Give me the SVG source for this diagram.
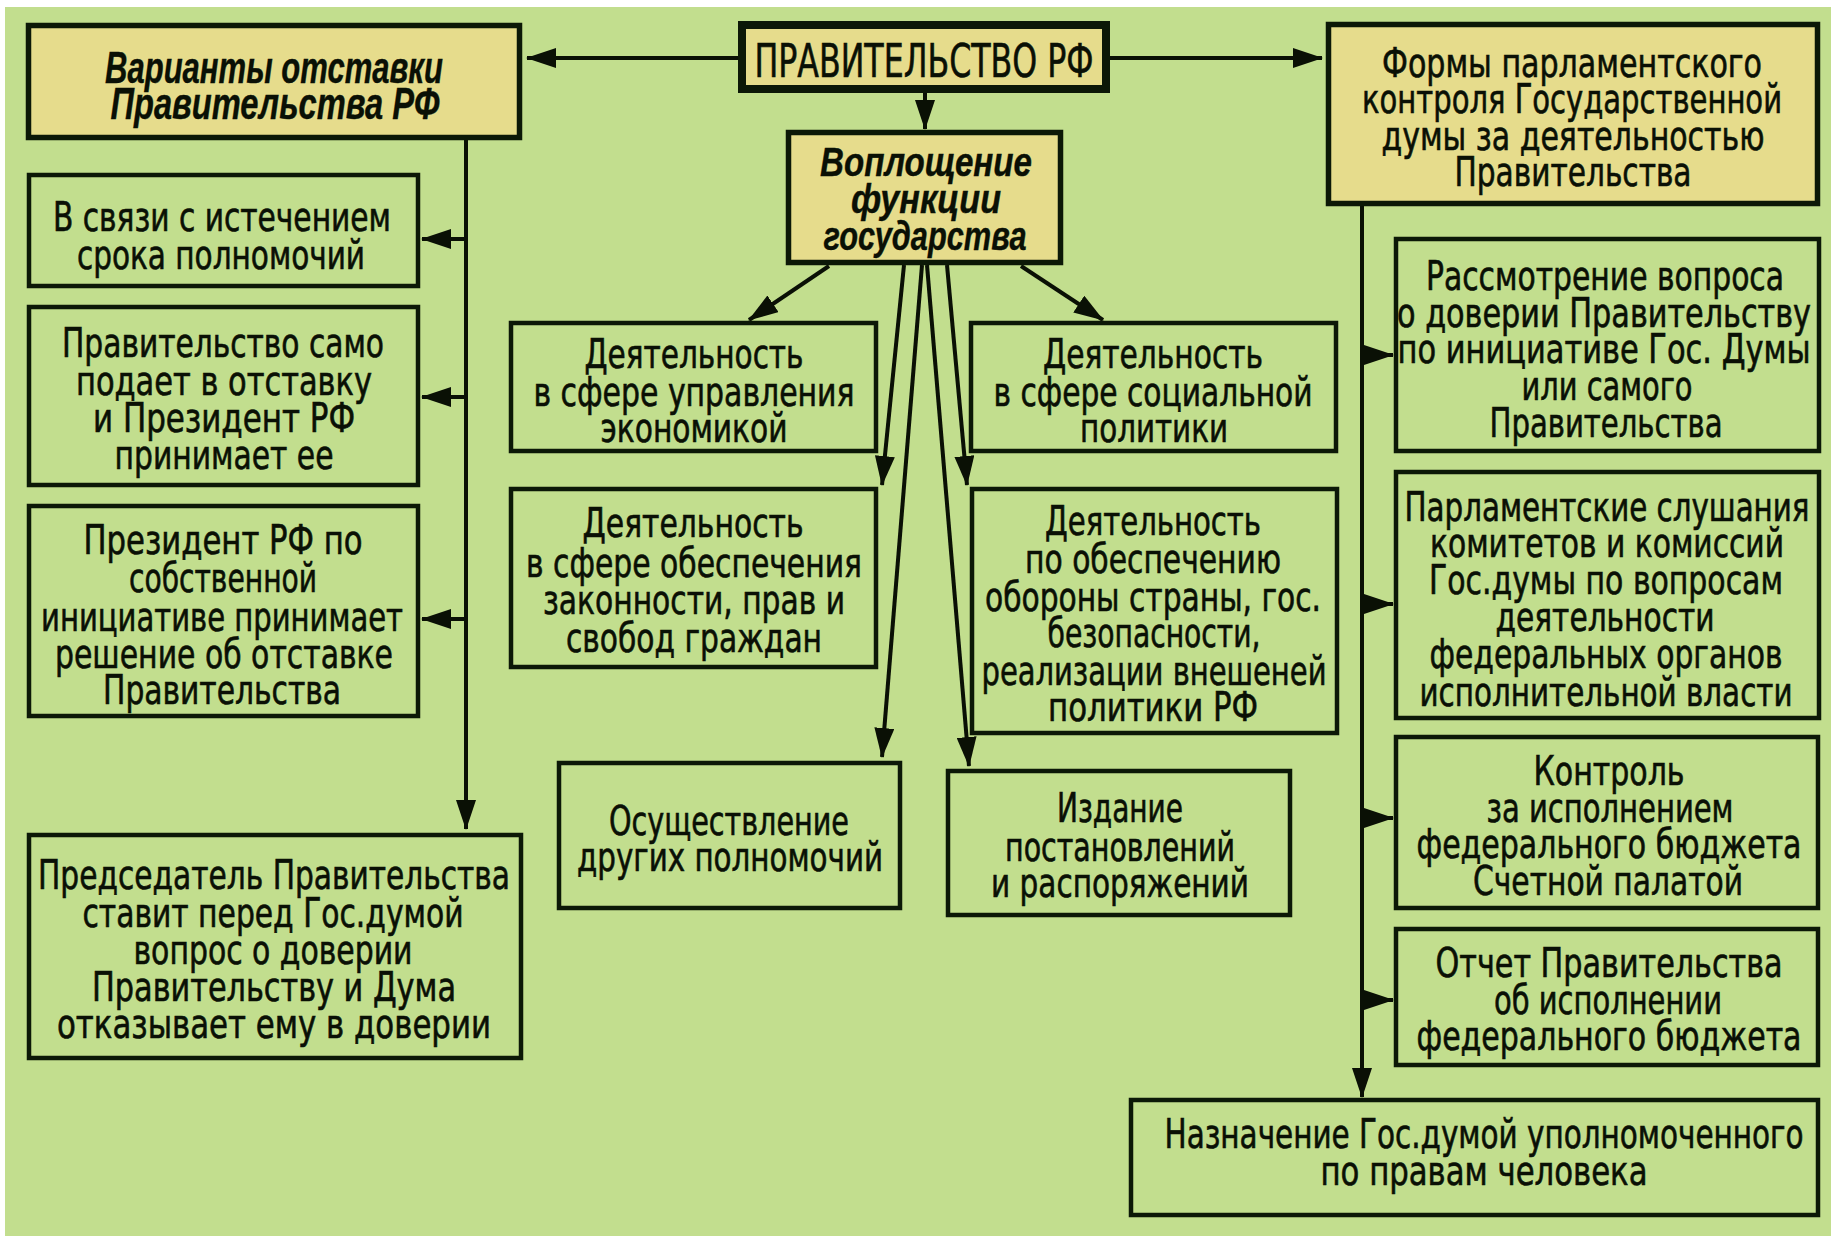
<svg xmlns="http://www.w3.org/2000/svg" width="1831" height="1236" viewBox="0 0 1831 1236">
<style>
.bg{fill:#c2de8e}
.box{fill:#c2de8e;stroke:#0c1807;stroke-width:4.5}
.hbox{fill:#e6dc8c;stroke:#0c1807;stroke-width:5.5}
.main{fill:#e6dc8c;stroke:#0c1807;stroke-width:8}
text{font-family:"DejaVu Sans","Liberation Sans",sans-serif;font-stretch:condensed;font-size:40px;fill:#0a1005;stroke:#0a1005;stroke-width:0.6;text-anchor:middle}
.hi{font-family:"Liberation Sans","DejaVu Sans",sans-serif;font-style:italic;font-weight:bold;font-stretch:normal;stroke-width:0.4}
.big{font-size:47px}
.conn line{stroke:#0a1005;stroke-width:4;marker-end:url(#ah)}
</style>
<defs>
<marker id="ah" viewBox="0 0 30 20" refX="29" refY="10" markerWidth="30" markerHeight="20" markerUnits="userSpaceOnUse" orient="auto">
<path d="M0,0 L30,10 L0,20 Z" fill="#0a1005"/>
</marker>
</defs>
<rect x="0" y="0" width="1831" height="1236" fill="#ffffff"/>
<rect class="bg" x="5" y="7" width="1826" height="1229"/>

<g id="connectors" class="conn">
<line x1="739" y1="58" x2="527" y2="58"/>
<line x1="1109" y1="58" x2="1322" y2="58"/>
<line x1="925" y1="92" x2="925" y2="129"/>
<line x1="466" y1="140" x2="466" y2="829"/>
<line x1="466" y1="239" x2="422" y2="239"/>
<line x1="466" y1="397" x2="422" y2="397"/>
<line x1="466" y1="619" x2="422" y2="619"/>
<line x1="829" y1="266" x2="749" y2="320"/>
<line x1="1021" y1="266" x2="1103" y2="320"/>
<line x1="904" y1="265" x2="882" y2="485"/>
<line x1="922" y1="265" x2="882" y2="757"/>
<line x1="927" y1="265" x2="969" y2="766"/>
<line x1="947" y1="265" x2="967" y2="485"/>
<line x1="1362" y1="206" x2="1362" y2="1097"/>
<line x1="1362" y1="355" x2="1393" y2="355"/>
<line x1="1362" y1="604" x2="1393" y2="604"/>
<line x1="1362" y1="818" x2="1393" y2="818"/>
<line x1="1362" y1="1000" x2="1393" y2="1000"/>
</g>

<g id="pravitelstvo">
<rect class="main" x="742" y="25" width="364" height="64"/>
<text class="big" x="924" y="77" textLength="339" lengthAdjust="spacingAndGlyphs">ПРАВИТЕЛЬСТВО РФ</text>
</g>

<g id="varianty">
<rect class="hbox" x="28.5" y="25.5" width="491" height="112"/>
<text class="hi" style="font-size:44px" x="274" y="83" textLength="338" lengthAdjust="spacingAndGlyphs">Варианты отставки</text>
<text class="hi" style="font-size:44px" x="275" y="119" textLength="329" lengthAdjust="spacingAndGlyphs">Правительства РФ</text>
</g>

<g id="formy">
<rect class="hbox" x="1328.5" y="24.5" width="489" height="179"/>
<text x="1572" y="77" textLength="380" lengthAdjust="spacingAndGlyphs">Формы парламентского</text>
<text x="1572" y="113" textLength="420" lengthAdjust="spacingAndGlyphs">контроля Государственной</text>
<text x="1573" y="150" textLength="383" lengthAdjust="spacingAndGlyphs">думы за деятельностью</text>
<text x="1573" y="186" textLength="237" lengthAdjust="spacingAndGlyphs">Правительства</text>
</g>

<g id="voploshchenie">
<rect class="hbox" x="788.5" y="132.5" width="272" height="130"/>
<text class="hi" x="926" y="176" textLength="212" lengthAdjust="spacingAndGlyphs">Воплощение</text>
<text class="hi" x="926" y="213" textLength="150" lengthAdjust="spacingAndGlyphs">функции</text>
<text class="hi" x="925" y="250" textLength="203" lengthAdjust="spacingAndGlyphs">государства</text>
</g>

<g id="v-svyazi">
<rect class="box" x="29" y="175" width="389" height="111"/>
<text x="222" y="231" textLength="338" lengthAdjust="spacingAndGlyphs">В связи с истечением</text>
<text x="221" y="269" textLength="288" lengthAdjust="spacingAndGlyphs">срока полномочий</text>
</g>

<g id="samo">
<rect class="box" x="29" y="307" width="389" height="178"/>
<text x="223" y="357" textLength="322" lengthAdjust="spacingAndGlyphs">Правительство само</text>
<text x="224" y="395" textLength="296" lengthAdjust="spacingAndGlyphs">подает в отставку</text>
<text x="224" y="432" textLength="262" lengthAdjust="spacingAndGlyphs">и Президент РФ</text>
<text x="224" y="469" textLength="219" lengthAdjust="spacingAndGlyphs">принимает ее</text>
</g>

<g id="prezident">
<rect class="box" x="29" y="506" width="389" height="210"/>
<text x="223" y="554" textLength="279" lengthAdjust="spacingAndGlyphs">Президент РФ по</text>
<text x="223" y="592" textLength="188" lengthAdjust="spacingAndGlyphs">собственной</text>
<text x="222" y="631" textLength="362" lengthAdjust="spacingAndGlyphs">инициативе принимает</text>
<text x="224" y="668" textLength="338" lengthAdjust="spacingAndGlyphs">решение об отставке</text>
<text x="222" y="704" textLength="238" lengthAdjust="spacingAndGlyphs">Правительства</text>
</g>

<g id="predsedatel">
<rect class="box" x="29" y="835" width="492" height="223"/>
<text x="274" y="889" textLength="472" lengthAdjust="spacingAndGlyphs">Председатель Правительства</text>
<text x="273" y="927" textLength="381" lengthAdjust="spacingAndGlyphs">ставит перед Гос.думой</text>
<text x="273" y="964" textLength="279" lengthAdjust="spacingAndGlyphs">вопрос о доверии</text>
<text x="274" y="1001" textLength="364" lengthAdjust="spacingAndGlyphs">Правительству и Дума</text>
<text x="274" y="1038" textLength="434" lengthAdjust="spacingAndGlyphs">отказывает ему в доверии</text>
</g>

<g id="ekonomika">
<rect class="box" x="511" y="323" width="365" height="128"/>
<text x="694" y="368" textLength="219" lengthAdjust="spacingAndGlyphs">Деятельность</text>
<text x="694" y="406" textLength="321" lengthAdjust="spacingAndGlyphs">в сфере управления</text>
<text x="694" y="442" textLength="187" lengthAdjust="spacingAndGlyphs">экономикой</text>
</g>

<g id="socialnaya">
<rect class="box" x="971" y="323" width="365" height="128"/>
<text x="1153" y="368" textLength="220" lengthAdjust="spacingAndGlyphs">Деятельность</text>
<text x="1153" y="406" textLength="319" lengthAdjust="spacingAndGlyphs">в сфере социальной</text>
<text x="1154" y="442" textLength="148" lengthAdjust="spacingAndGlyphs">политики</text>
</g>

<g id="zakonnost">
<rect class="box" x="511" y="489" width="365" height="178"/>
<text x="693" y="537" textLength="221" lengthAdjust="spacingAndGlyphs">Деятельность</text>
<text x="694" y="577" textLength="336" lengthAdjust="spacingAndGlyphs">в сфере обеспечения</text>
<text x="694" y="614" textLength="302" lengthAdjust="spacingAndGlyphs">законности, прав и</text>
<text x="694" y="652" textLength="256" lengthAdjust="spacingAndGlyphs">свобод граждан</text>
</g>

<g id="oborona">
<rect class="box" x="972" y="489" width="365" height="244"/>
<text x="1153" y="535" textLength="216" lengthAdjust="spacingAndGlyphs">Деятельность</text>
<text x="1153" y="573" textLength="256" lengthAdjust="spacingAndGlyphs">по обеспечению</text>
<text x="1153" y="611" textLength="336" lengthAdjust="spacingAndGlyphs">обороны страны, гос.</text>
<text x="1154" y="647" textLength="213" lengthAdjust="spacingAndGlyphs">безопасности,</text>
<text x="1154" y="685" textLength="345" lengthAdjust="spacingAndGlyphs">реализации внешеней</text>
<text x="1153" y="721" textLength="210" lengthAdjust="spacingAndGlyphs">политики РФ</text>
</g>

<g id="drugie">
<rect class="box" x="559" y="763" width="341" height="145"/>
<text x="729" y="835" textLength="240" lengthAdjust="spacingAndGlyphs">Осуществление</text>
<text x="730" y="871" textLength="306" lengthAdjust="spacingAndGlyphs">других полномочий</text>
</g>

<g id="izdanie">
<rect class="box" x="948" y="771" width="342" height="144"/>
<text x="1120" y="822" textLength="126" lengthAdjust="spacingAndGlyphs">Издание</text>
<text x="1120" y="861" textLength="230" lengthAdjust="spacingAndGlyphs">постановлений</text>
<text x="1120" y="897" textLength="258" lengthAdjust="spacingAndGlyphs">и распоряжений</text>
</g>

<g id="rassmotrenie">
<rect class="box" x="1396" y="239" width="423" height="212"/>
<text x="1605" y="290" textLength="358" lengthAdjust="spacingAndGlyphs">Рассмотрение вопроса</text>
<text x="1604" y="327" textLength="414" lengthAdjust="spacingAndGlyphs">о доверии Правительству</text>
<text x="1604" y="363" textLength="413" lengthAdjust="spacingAndGlyphs">по инициативе Гос. Думы</text>
<text x="1607" y="400" textLength="171" lengthAdjust="spacingAndGlyphs">или самого</text>
<text x="1606" y="437" textLength="233" lengthAdjust="spacingAndGlyphs">Правительства</text>
</g>

<g id="slushaniya">
<rect class="box" x="1396" y="472" width="423" height="246"/>
<text x="1607" y="521" textLength="405" lengthAdjust="spacingAndGlyphs">Парламентские слушания</text>
<text x="1607" y="557" textLength="354" lengthAdjust="spacingAndGlyphs">комитетов и комиссий</text>
<text x="1606" y="594" textLength="354" lengthAdjust="spacingAndGlyphs">Гос.думы по вопросам</text>
<text x="1605" y="631" textLength="219" lengthAdjust="spacingAndGlyphs">деятельности</text>
<text x="1606" y="668" textLength="353" lengthAdjust="spacingAndGlyphs">федеральных органов</text>
<text x="1606" y="706" textLength="373" lengthAdjust="spacingAndGlyphs">исполнительной власти</text>
</g>

<g id="kontrol">
<rect class="box" x="1396" y="737" width="422" height="171"/>
<text x="1609" y="785" textLength="151" lengthAdjust="spacingAndGlyphs">Контроль</text>
<text x="1610" y="822" textLength="247" lengthAdjust="spacingAndGlyphs">за исполнением</text>
<text x="1609" y="858" textLength="385" lengthAdjust="spacingAndGlyphs">федерального бюджета</text>
<text x="1608" y="895" textLength="270" lengthAdjust="spacingAndGlyphs">Счетной палатой</text>
</g>

<g id="otchet">
<rect class="box" x="1396" y="929" width="422" height="136"/>
<text x="1609" y="977" textLength="347" lengthAdjust="spacingAndGlyphs">Отчет Правительства</text>
<text x="1608" y="1014" textLength="228" lengthAdjust="spacingAndGlyphs">об исполнении</text>
<text x="1609" y="1050" textLength="385" lengthAdjust="spacingAndGlyphs">федерального бюджета</text>
</g>

<g id="naznachenie">
<rect class="box" x="1131" y="1100" width="687" height="115"/>
<text x="1484" y="1148" textLength="639" lengthAdjust="spacingAndGlyphs">Назначение Гос.думой уполномоченного</text>
<text x="1484" y="1185" textLength="327" lengthAdjust="spacingAndGlyphs">по правам человека</text>
</g>
</svg>
